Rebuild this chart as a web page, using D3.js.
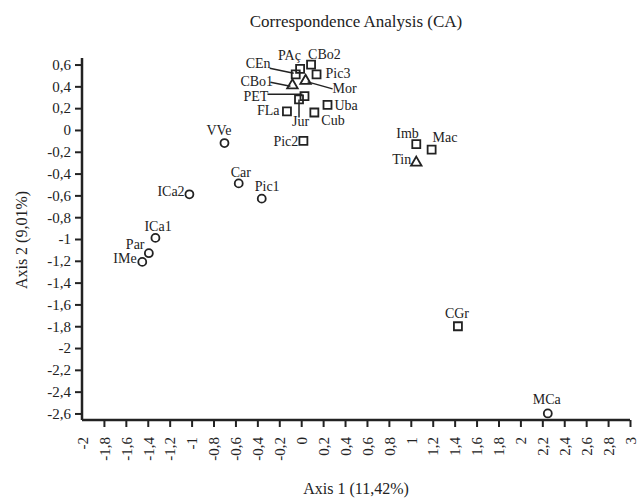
<!DOCTYPE html>
<html>
<head>
<meta charset="utf-8">
<script src="https://cdn.jsdelivr.net/npm/d3@7"></script>
<style>
  body { margin: 0; background: #fff; }
  svg text { font-family: "Liberation Serif", "DejaVu Serif", serif; fill: #222; }
</style>
</head>
<body>
<div id="chart"></div>
<script>
// tick values shown on the axes
var xTicks = [-2, -1.8, -1.6, -1.4, -1.2, -1, -0.8, -0.6, -0.4, -0.2, 0, 0.2, 0.4, 0.6, 0.8, 1, 1.2, 1.4, 1.6, 1.8, 2, 2.2, 2.4, 2.6, 2.8, 3];
var yTicks = [0.6, 0.4, 0.2, 0, -0.2, -0.4, -0.6, -0.8, -1, -1.2, -1.4, -1.6, -1.8, -2, -2.2, -2.4, -2.6];

// sites (name, axis 1, axis 2, symbol)
var names = ["CBo2", "Pic3", "PAç", "CEn", "Mor", "CBo1", "PET", "Jur", "FLa", "Uba", "Cub", "Pic2", "VVe", "Imb", "Mac", "Tin",
             "Car", "ICa2", "Pic1", "ICa1", "Par", "IMe", "CGr", "MCa"];
var axis1 = [0.09, 0.14, -0.01, -0.05, 0.04, -0.08, 0.03, -0.02, -0.13, 0.24, 0.12, 0.02, -0.70, 1.05, 1.19, 1.05,
             -0.57, -1.02, -0.36, -1.33, -1.39, -1.45, 1.43, 2.25];
var axis2 = [0.60, 0.51, 0.56, 0.51, 0.45, 0.41, 0.31, 0.28, 0.17, 0.23, 0.16, -0.10, -0.12, -0.13, -0.18, -0.30,
             -0.49, -0.59, -0.63, -0.99, -1.13, -1.21, -1.80, -2.60];
var symbols = ["s", "s", "s", "s", "t", "t", "s", "s", "s", "s", "s", "s", "c", "s", "s", "t",
               "c", "c", "c", "c", "c", "c", "s", "c"];

// label placement in pixels relative to the marker: dx, dy (baseline)
var labelPos = {
  "CBo2": [-3, -6], "Pic3": [9, 4], "PAç": [-22, -9], "CEn": [-50, -6], "Mor": [27, 12],
  "CBo1": [-52, 1], "PET": [-61, 5], "Jur": [-7, 27], "FLa": [-30, 4], "Uba": [7, 5],
  "Cub": [7, 12], "Pic2": [-30, 5], "VVe": [-18, -8], "Imb": [-20, -6.5], "Mac": [1, -7.5],
  "Tin": [-24, 1.5], "Car": [-8, -6.5], "ICa2": [-32, 1.5], "Pic1": [-7, -7.5], "ICa1": [-11, -6.5],
  "Par": [-23, -4], "IMe": [-29, 1.5], "CGr": [-13, -8.5], "MCa": [-15, -9.5]
};
// leader lines, pixel offsets from the marker: x1, y1, x2, y2
var leaderPos = {
  "CEn": [-2, -1, -26, -6],
  "CBo1": [-2, 1, -22, -3],
  "PET": [-2, -2, -37, -2],
  "Mor": [2, 1, 27, 8],
  "Jur": [0, 0, 0, 18]
};

var width = 644, height = 498;
var fmt = d3.formatLocale({ decimal: ",", thousands: ".", grouping: [3], currency: ["", ""], minus: "-" }).format("~g");

var x = d3.scaleLinear().domain([-2, 3]).range([82, 630]);
var y = d3.scaleLinear().domain([-2.66, 0.66]).range([420, 58]);

var svg = d3.select("#chart").append("svg")
    .attr("width", width)
    .attr("height", height);

// title
svg.append("text")
    .attr("x", 356).attr("y", 27)
    .attr("text-anchor", "middle")
    .style("font-size", "17px")
    .text("Correspondence Analysis (CA)");

// y axis
var yAxis = svg.append("g")
    .attr("transform", "translate(" + x(-2) + ",0)")
    .call(d3.axisLeft(y).tickValues(yTicks).tickFormat(fmt).tickSize(7).tickSizeOuter(0).tickPadding(4));
yAxis.select(".domain").attr("d", "M0," + y(0.66) + "V" + y(-2.66)).attr("stroke", "#222").attr("stroke-width", 2.5);
yAxis.selectAll(".tick line").attr("stroke", "#222").attr("stroke-width", 2);
yAxis.selectAll(".tick text").style("font-size", "15px").attr("fill", "#222");

// x axis
var xAxis = svg.append("g")
    .attr("transform", "translate(0," + y(-2.66) + ")")
    .call(d3.axisBottom(x).tickValues(xTicks).tickFormat(fmt).tickSize(7).tickSizeOuter(0));
xAxis.select(".domain").attr("d", "M" + x(-2) + ",0H" + x(3)).attr("stroke", "#222").attr("stroke-width", 2.5);
xAxis.selectAll(".tick line").attr("stroke", "#222").attr("stroke-width", 2)
    .attr("opacity", function(d) { return d === -2 ? 0 : 1; });
xAxis.selectAll(".tick text")
    .style("font-size", "15px").attr("fill", "#222")
    .attr("text-anchor", "end")
    .attr("dy", "0.35em")
    .attr("transform", "translate(0,17) rotate(-90)")
    .attr("y", 0).attr("x", 0);

// axis titles
svg.append("text")
    .attr("x", 356).attr("y", 494)
    .attr("text-anchor", "middle")
    .style("font-size", "16px")
    .text("Axis 1 (11,42%)");
svg.append("text")
    .attr("transform", "translate(27,240) rotate(-90)")
    .attr("text-anchor", "middle")
    .style("font-size", "16px")
    .text("Axis 2 (9,01%)");

var points = names.map(function(n, i) {
  return { name: n, a1: axis1[i], a2: axis2[i], sym: symbols[i] };
});

// leader lines
svg.append("g").selectAll("line")
    .data(points.filter(function(d) { return leaderPos[d.name]; })).enter()
  .append("line")
    .attr("x1", function(d) { return x(d.a1) + leaderPos[d.name][0]; })
    .attr("y1", function(d) { return y(d.a2) + leaderPos[d.name][1]; })
    .attr("x2", function(d) { return x(d.a1) + leaderPos[d.name][2]; })
    .attr("y2", function(d) { return y(d.a2) + leaderPos[d.name][3]; })
    .attr("stroke", "#222")
    .attr("stroke-width", 1.5);

// markers
var sym = { s: d3.symbolSquare, c: d3.symbolCircle, t: d3.symbolTriangle };
var symSize = { s: 64, c: 50, t: 48 };
svg.append("g").selectAll("path")
    .data(points).enter()
  .append("path")
    .attr("transform", function(d) { return "translate(" + x(d.a1) + "," + y(d.a2) + ")"; })
    .attr("d", function(d) { return d3.symbol().type(sym[d.sym]).size(symSize[d.sym])(); })
    .attr("fill", "none")
    .attr("stroke", "#222")
    .attr("stroke-width", 1.8);

// labels
svg.append("g").selectAll("text")
    .data(points).enter()
  .append("text")
    .attr("x", function(d) { return x(d.a1) + labelPos[d.name][0]; })
    .attr("y", function(d) { return y(d.a2) + labelPos[d.name][1]; })
    .style("font-size", "14px")
    .text(function(d) { return d.name; });
</script>
</body>
</html>
